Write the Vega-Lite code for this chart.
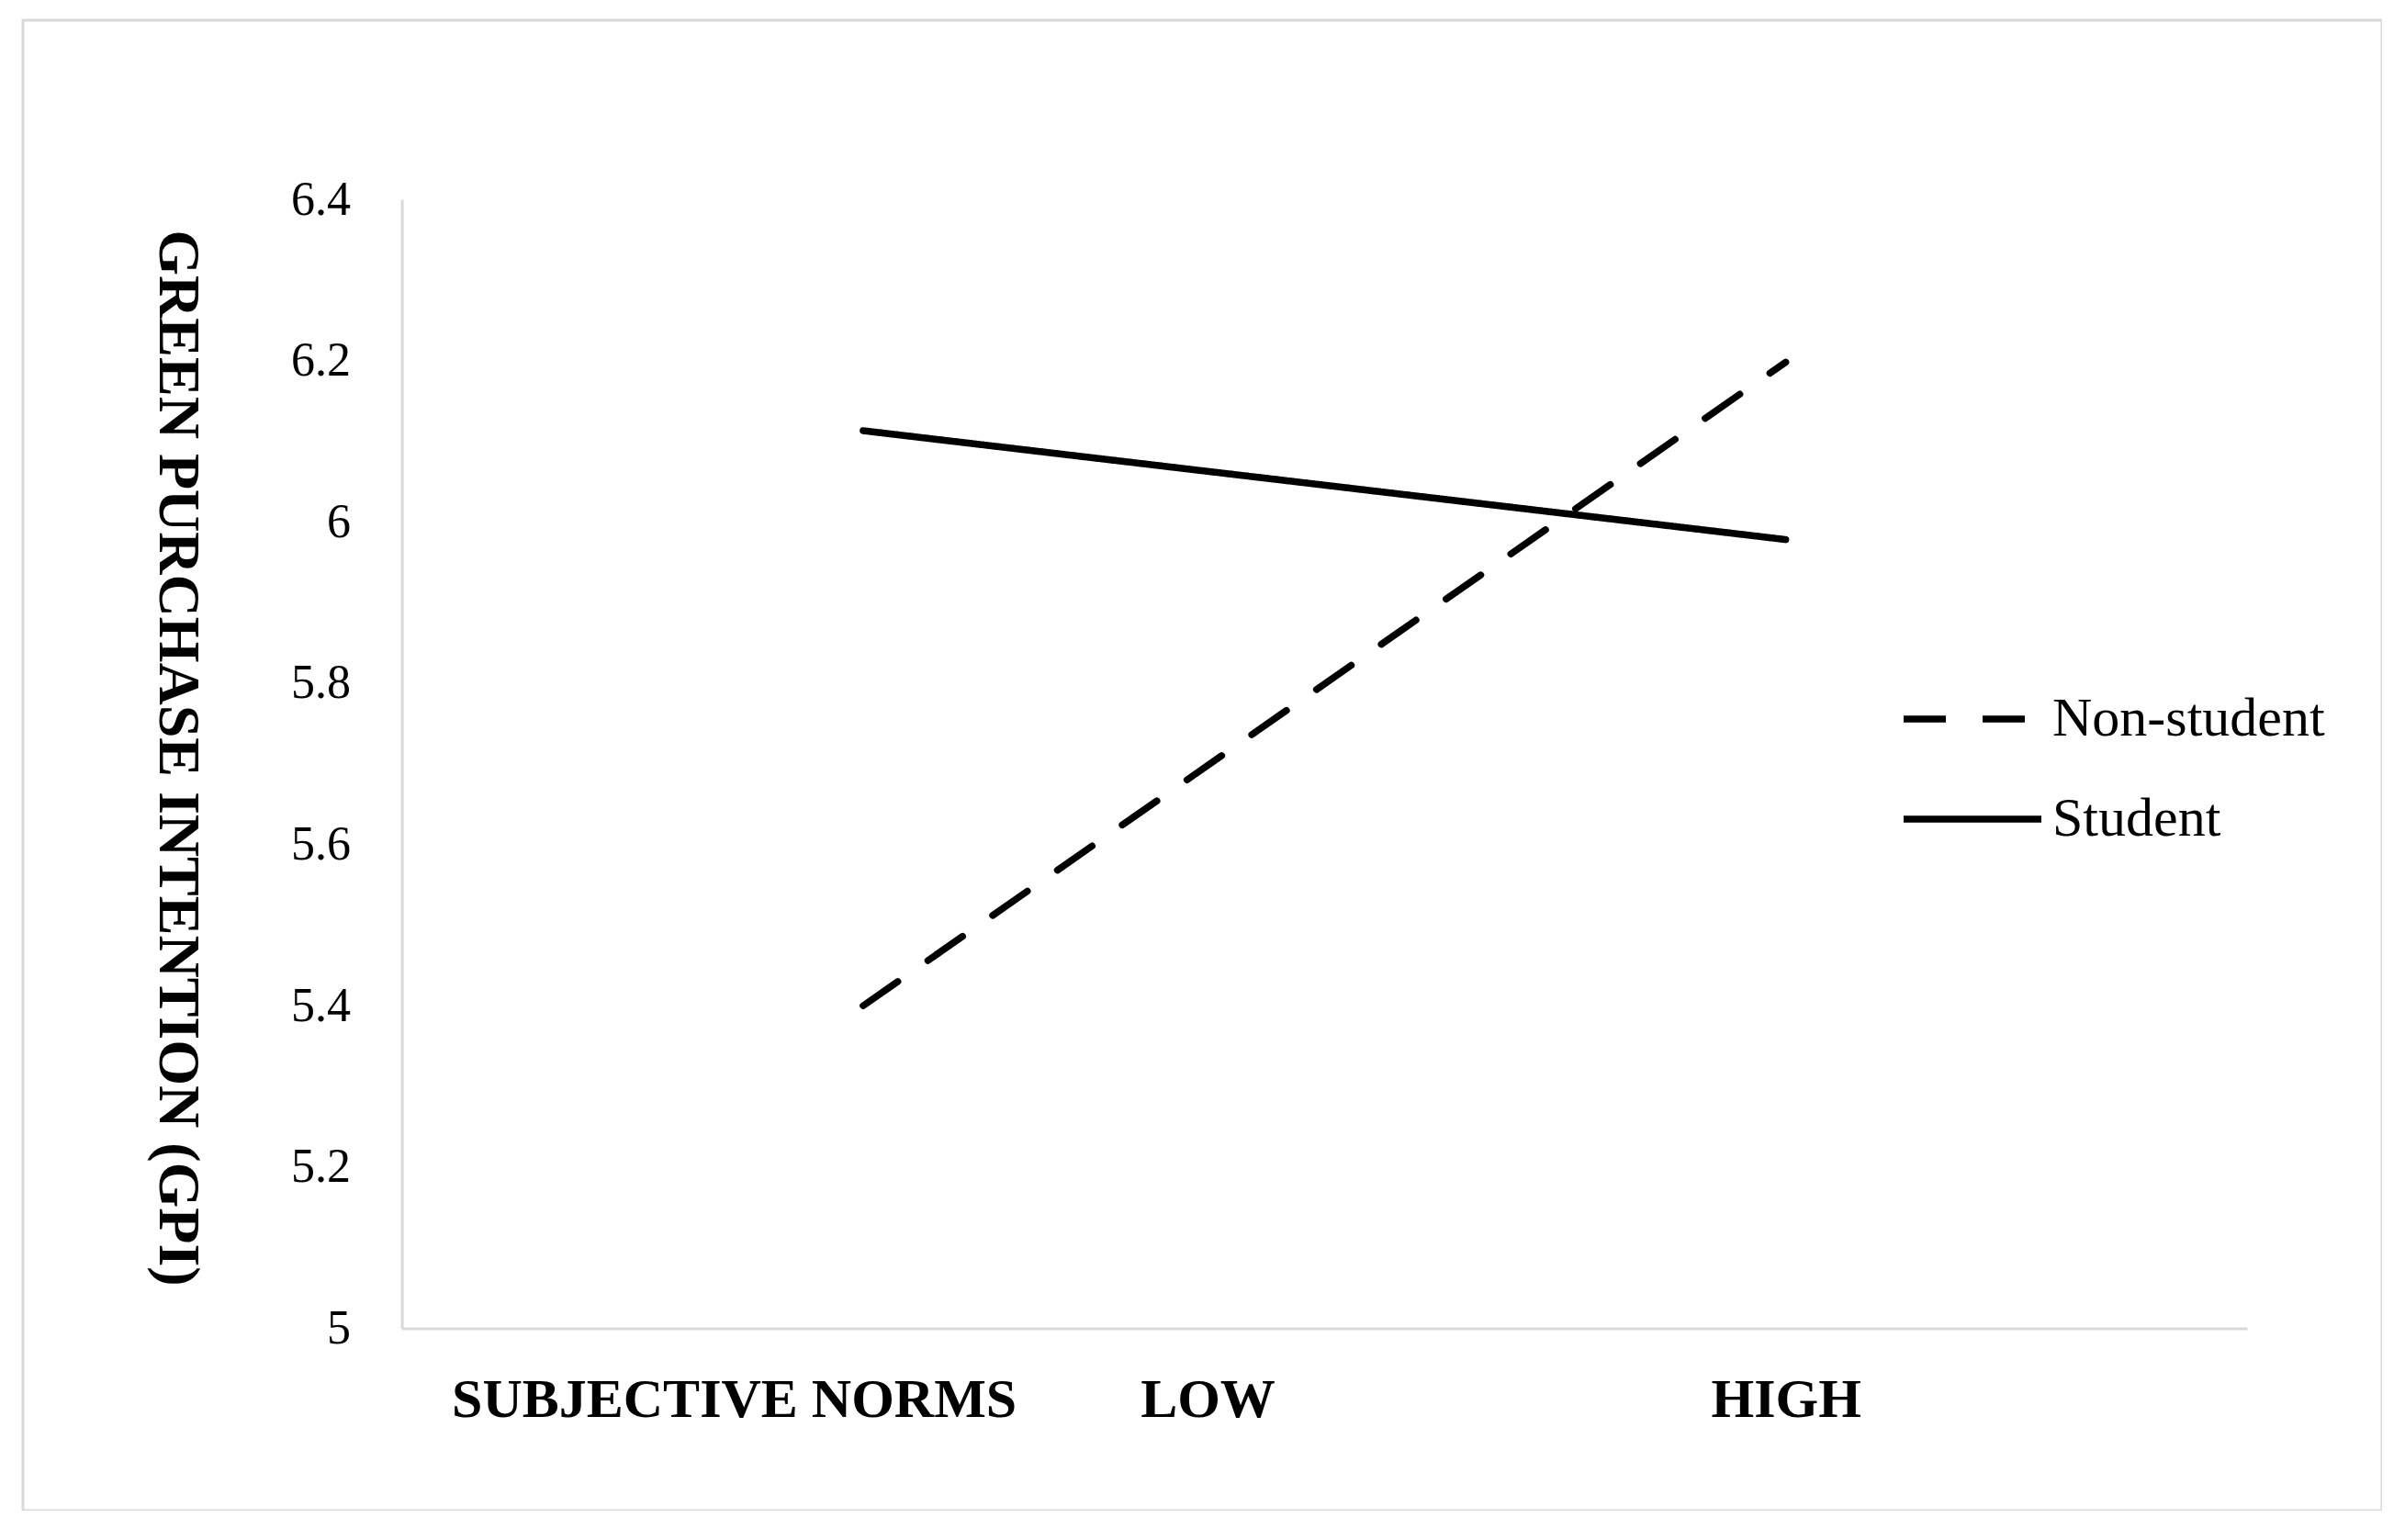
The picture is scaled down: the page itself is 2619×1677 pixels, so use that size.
{
  "$schema": "https://vega.github.io/schema/vega-lite/v6.json",
  "autosize": "none",
  "width": 2569,
  "height": 1623,
  "padding": {"left": 25, "top": 22, "right": 0, "bottom": 0},
  "background": "white",
  "config": {
    "view": {"stroke": "#d9d9d9", "strokeWidth": 3, "fill": "white"}
  },
  "data": {
    "values": [
      {"norms": "LOW", "group": "Non-student", "gpi": 5.40},
      {"norms": "HIGH", "group": "Non-student", "gpi": 6.198},
      {"norms": "LOW", "group": "Student", "gpi": 6.113},
      {"norms": "HIGH", "group": "Student", "gpi": 5.978}
    ]
  },
  "mark": {"type": "line", "color": "black", "strokeWidth": 7.5, "strokeCap": "round"},
  "encoding": {
    "x": {
      "field": "norms",
      "type": "nominal",
      "sort": ["LOW", "HIGH"],
      "scale": {"type": "point", "domain": ["LOW", "HIGH"], "range": [412.6, 2422], "padding": 0.5},
      "axis": {
        "title": null,
        "offset": -198.5,
        "domainColor": "#d9d9d9",
        "domainWidth": 3,
        "ticks": false,
        "tickSize": 0,
        "grid": false,
        "labelAngle": 0,
        "labelLimit": 0,
        "labelFont": "Liberation Serif",
        "labelFontWeight": "bold",
        "labelFontSize": 60,
        "labelColor": "black",
        "labelBaseline": "alphabetic",
        "labelPadding": 96,
        "labelExpr": "datum.value == 'LOW' ? 'SUBJECTIVE NORMS\u00a0\u00a0\u00a0\u00a0\u00a0\u00a0\u00a0\u00a0\u00a0LOW' : datum.value"
      }
    },
    "y": {
      "field": "gpi",
      "type": "quantitative",
      "scale": {"domain": [5, 6.4], "range": [1424.5, 195], "nice": false, "zero": false},
      "axis": {
        "title": "GREEN PURCHASE INTENTION (GPI)",
        "offset": -412.6,
        "values": [5, 5.2, 5.4, 5.6, 5.8, 6, 6.2, 6.4],
        "format": "~g",
        "domainColor": "#d9d9d9",
        "domainWidth": 3,
        "ticks": false,
        "tickSize": 0,
        "grid": false,
        "labelFont": "Liberation Serif",
        "labelFontSize": 52,
        "labelColor": "black",
        "labelPadding": 56,
        "titleFont": "Liberation Serif",
        "titleFontWeight": "bold",
        "titleFontSize": 64,
        "titleColor": "black",
        "titleAngle": 90,
        "titleAlign": "center",
        "titleBaseline": "middle",
        "titleLimit": 0,
        "titleX": -245,
        "titleY": 803
      }
    },
    "strokeDash": {
      "field": "group",
      "type": "nominal",
      "scale": {"domain": ["Non-student", "Student"], "range": [[46, 40], [1, 0]]},
      "legend": {
        "title": null,
        "orient": "none",
        "legendX": 2044,
        "legendY": 682,
        "padding": 0,
        "symbolType": "stroke",
        "symbolSize": 22500,
        "symbolStrokeWidth": 7.5,
        "symbolStrokeColor": "black",
        "labelFont": "Liberation Serif",
        "labelFontSize": 60,
        "labelColor": "black",
        "labelOffset": 8,
        "labelLimit": 0,
        "rowPadding": -4
      }
    }
  }
}
